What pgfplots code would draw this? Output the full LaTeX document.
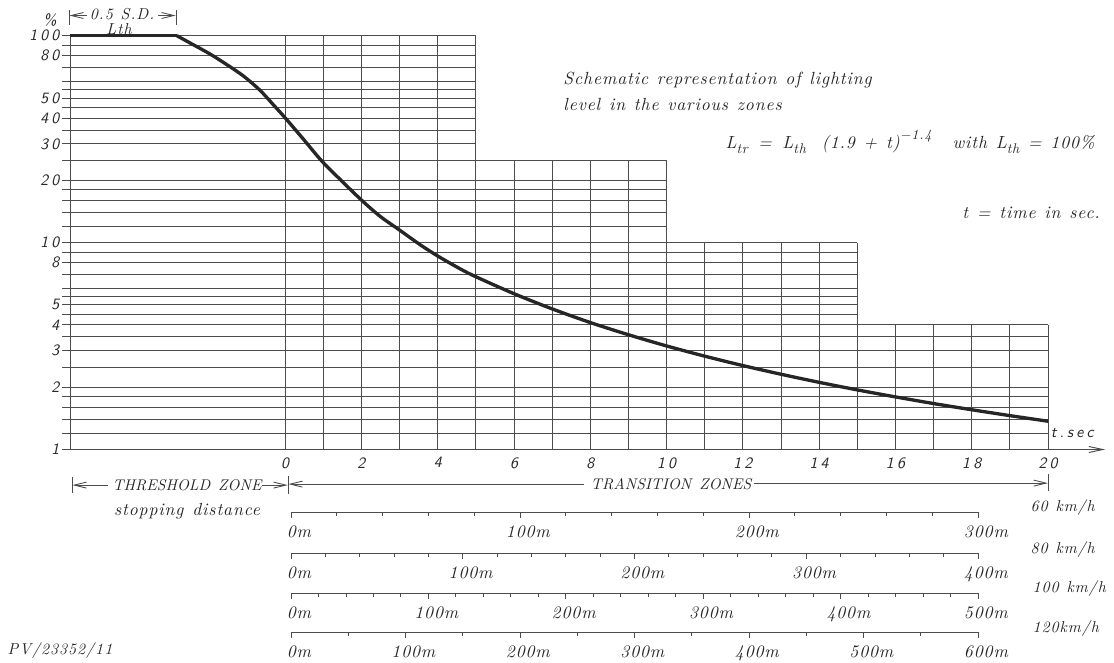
\documentclass[border=0pt]{standalone}
\usepackage{pgfplots}
\pgfplotsset{compat=1.18}
\usetikzlibrary{arrows.meta}

% CAD-like lettering: italic serif for words, oblique sans for tick numbers
\font\cadit="[lmroman10-italic]:letterspace=5" at 10pt
\font\cadsm="[lmroman10-italic]:letterspace=6" at 9pt
\font\cadcaps="[lmroman10-italic]" at 8.8pt
\font\cadsub="[lmroman10-italic]:letterspace=5" at 8pt
\font\cadsf="[lmsans10-oblique]:letterspace=20" at 9pt
\fontdimen2\cadit=5pt
\fontdimen2\cadsm=4.5pt
\fontdimen2\cadcaps=4.5pt

\definecolor{ink}{gray}{0.15}
\definecolor{rule}{gray}{0.3}

\tikzset{
  gridline/.style={rule, line width=0.55pt},
  dimarrow/.style={rule, line width=0.5pt, -{Straight Barb[length=7pt,width=3.4pt]}},
}
\pgfplotsset{
  scalebar/.style={
    anchor=south west, scale only axis, width=13.74cm, height=0.2pt,
    xmin=0, ymin=0, ymax=1,
    axis x line*=bottom, axis y line=none, ytick=\empty,
    tick align=outside, major tick length=0.11cm, minor tick length=0.08cm,
    tick style={rule, line width=0.5pt},
    axis line style={rule, line width=0.5pt},
    xticklabel style={font=\cadit, text=ink, xshift=4.5pt, yshift=-1pt},
    clip=false,
  },
}

\begin{document}
\begin{tikzpicture}

% lighting level against time
\begin{axis}[
  at={(1.4cm,-8.99cm)}, anchor=south west,
  scale only axis, width=19.56cm, height=8.276cm,
  xmin=-5.64, xmax=20, ymin=1, ymax=100, ymode=log,
  axis line style={draw=none}, tick style={draw=none},
  xtick={0,2,4,6,8,10,12,14,16,18,20},
  xticklabels={0,2,4,6,8,10,12,14,16,18,20},
  ytick={1,2,3,4,5,8,10,20,30,40,50,80,100},
  yticklabels={1,2,3,4,5,8,10,20,30,40,50,80,100},
  xticklabel style={font=\cadsf, text=ink, yshift=-1pt},
  yticklabel style={font=\cadsf, text=ink, xshift=-2.5pt},
  clip=false,
]
% stepped log grid
\pgfplotsinvokeforeach{1.2,1.4,1.6,1.8,2,2.5,3,3.5,4}{
  \draw[gridline] (axis cs:-5.84,#1) -- (axis cs:20,#1);}
\pgfplotsinvokeforeach{4.5,5,5.5,6,7,8,9,10}{
  \draw[gridline] (axis cs:-5.84,#1) -- (axis cs:15,#1);}
\pgfplotsinvokeforeach{12,14,16,18,20,25}{
  \draw[gridline] (axis cs:-5.84,#1) -- (axis cs:10,#1);}
\pgfplotsinvokeforeach{30,35,40,45,50,55,60,70,80,90,100}{
  \draw[gridline] (axis cs:-5.84,#1) -- (axis cs:5,#1);}
\draw[gridline] (axis cs:-5.64,1) -- (axis cs:-5.64,100);
\pgfplotsinvokeforeach{0,1,2,3,4,5}{
  \draw[gridline] (axis cs:#1,1) -- (axis cs:#1,100);}
\pgfplotsinvokeforeach{6,7,8,9,10}{
  \draw[gridline] (axis cs:#1,1) -- (axis cs:#1,25);}
\pgfplotsinvokeforeach{11,12,13,14,15}{
  \draw[gridline] (axis cs:#1,1) -- (axis cs:#1,10);}
\pgfplotsinvokeforeach{16,17,18,19,20}{
  \draw[gridline] (axis cs:#1,1) -- (axis cs:#1,4);}
\draw[gridline, -{Straight Barb[length=8pt,width=3.4pt]}]
  (axis cs:-5.84,1) -- (axis cs:21.5,1);

% threshold level, then the decay
\addplot[ink, line width=1.9pt] coordinates {(-5.64,100)(-2.84,100)};
\addplot[ink, line width=1.9pt, smooth, tension=0.5, line join=round] coordinates {
  (-2.84,100)(-2.41,90.5)(-1.97,81.6)(-1.53,72.5)(-1.09,63.8)
  (-0.66,54.5)(-0.31,46.4)(0,40.1)(0.48,31.6)(0.96,24.8)(1.49,19.8)
  (2.01,16.0)(2.49,13.4)(2.97,11.6)(3.54,9.77)(4.02,8.57)(4.64,7.38)
  (5.03,6.80)(6,5.665)(7,4.783)(8,4.109)(9,3.587)(10,3.167)
  (11,2.826)(12,2.545)(13,2.311)(14,2.112)(15,1.942)(16,1.796)
  (17,1.668)(18,1.557)(19,1.458)(20,1.370)
};
\end{axis}

% distance scales, each spanning 0 to 18 s
\begin{axis}[scalebar, at={(5.82cm,-10.24cm)}, xmax=300,
  xtick={0,100,200,300}, xticklabels={0m,100m,200m,300m}, minor x tick num=4]
\end{axis}
\begin{axis}[scalebar, at={(5.82cm,-11.06cm)}, xmax=400,
  xtick={0,100,200,300,400}, xticklabels={0m,100m,200m,300m,400m}, minor x tick num=4]
\end{axis}
\begin{axis}[scalebar, at={(5.82cm,-11.86cm)}, xmax=500,
  xtick={0,100,200,300,400,500}, xticklabels={0m,100m,200m,300m,400m,500m}, minor x tick num=4]
\end{axis}
\begin{axis}[scalebar, at={(5.82cm,-12.64cm)}, xmax=600,
  xtick={0,100,200,300,400,500,600}, xticklabels={0m,100m,200m,300m,400m,500m,600m}, minor x tick num=1]
\end{axis}

% annotations, in pixel units of the 1114x662 frame
\begin{scope}[x=0.02cm, y=-0.02cm, every node/.style={inner sep=0pt, text=ink}]
\node[font=\cadsf] at (50,20) {\%};
\draw[gridline] (69,10) -- (69,25);
\draw[gridline] (176,10) -- (176,25);
\draw[dimarrow] (87,15.5) -- (69.3,15.5);
\draw[dimarrow] (158,15.5) -- (175.7,15.5);
\node[font=\cadsm] at (122,14) {0.5 S.D.};
\node[font=\cadsm] at (119,29) {Lth};

\node[font=\cadit, anchor=west] at (563,80) {Schematic representation of lighting};
\node[font=\cadit, anchor=west] at (563,104) {level in the various zones};
\node[font=\cadit, anchor=base west] at (725,148) {L\raisebox{-0.7ex}{\cadsub tr}\hspace{6pt}=\hspace{6pt}L\raisebox{-0.7ex}{\cadsub th}\hspace{9pt}(1.9 + t)\raisebox{1.1ex}{\cadsub \char"2212 1.4}\hspace{12pt}with L\raisebox{-0.7ex}{\cadsub th}\hspace{5pt}=\hspace{5pt}100\%};
\node[font=\cadit, anchor=east] at (1100,213) {t = time in sec.};
\node[font=\cadsf] at (1072,433) {t.sec};

\draw[gridline] (72,477) -- (72,493);
\draw[dimarrow] (108,485) -- (72.3,485);
\node[font=\cadcaps] at (187,485) {THRESHOLD ZONE};
\draw[dimarrow] (262,485) -- (287.7,485);
\draw[gridline] (288,476) -- (288,494);
\draw[dimarrow] (584,484) -- (288.3,484);
\node[font=\cadcaps] at (671,484) {TRANSITION ZONES};
\draw[dimarrow] (754,483) -- (1047.7,483);
\draw[gridline] (1048,474) -- (1048,491);
\node[font=\cadit] at (187,511) {stopping distance};

\node[font=\cadsm, anchor=west] at (1030,507) {60 km/h};
\node[font=\cadsm, anchor=west] at (1030,549) {80 km/h};
\node[font=\cadsm, anchor=west] at (1032,588) {100 km/h};
\node[font=\cadsm, anchor=west] at (1032,628) {120km/h};
\node[font=\cadsm] at (60,650) {PV/23352/11};
\end{scope}

\pgfresetboundingbox
\path[use as bounding box] (0,0) rectangle (22.28cm,-13.24cm);
\end{tikzpicture}
\end{document}
